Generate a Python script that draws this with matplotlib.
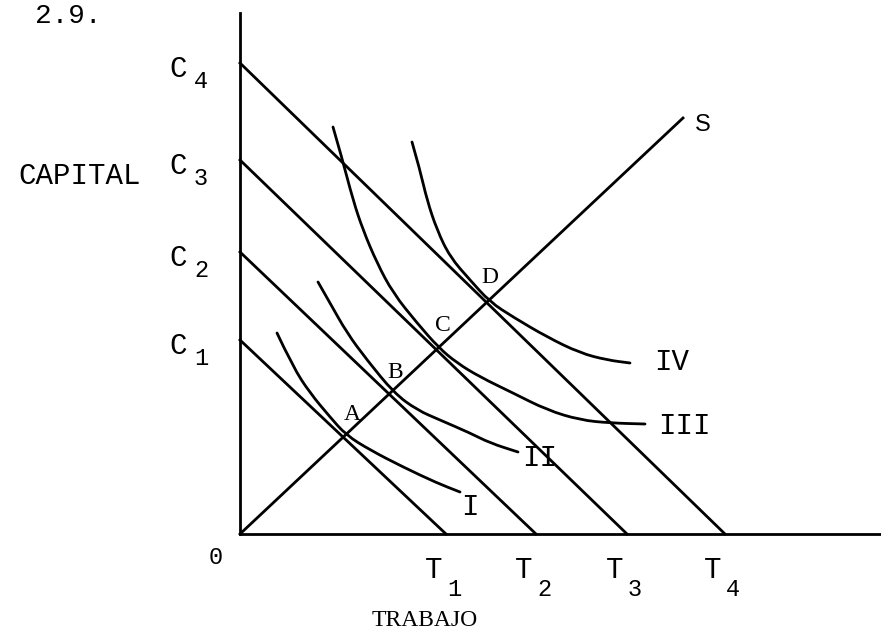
import matplotlib
matplotlib.use("Agg")
import matplotlib.pyplot as plt
from matplotlib.path import Path
from matplotlib.patches import PathPatch

# isocost intercepts (capital axis, labour axis)
c_levels = [19.4, 28.2, 37.4, 47.1]
t_levels = [20.6, 29.6, 38.7, 48.5]
c_names = ["1", "2", "3", "4"]

# expansion path S
s_end = (44.3, 41.6)

# isoquants
iso_I_x = [3.7, 5.3, 7.0, 9.0, 10.6, 13.0, 16.3, 19.7, 22.0]
iso_I_y = [20.1, 16.7, 14.1, 11.7, 9.9, 8.4, 6.7, 5.1, 4.2]
iso_II_x = [7.8, 9.0, 10.7, 12.7, 15.4, 17.7, 20.0, 23.0, 25.0, 27.8]
iso_II_y = [25.2, 23.1, 20.1, 17.4, 14.1, 12.4, 11.4, 10.1, 9.1, 8.2]
iso_III_x = [9.3, 10.2, 11.3, 12.3, 13.7, 15.3, 17.7, 19.9, 21.7, 24.0, 27.3, 30.7, 34.0, 37.0, 40.5]
iso_III_y = [40.7, 37.6, 33.4, 30.4, 27.1, 24.1, 21.1, 18.6, 17.1, 15.7, 14.1, 12.4, 11.4, 11.1, 11.0]
iso_IV_x = [17.2, 18.0, 18.7, 19.7, 21.0, 23.0, 25.0, 27.3, 30.7, 34.0, 36.7, 39.0]
iso_IV_y = [39.2, 36.4, 33.4, 30.4, 27.7, 25.4, 23.2, 21.7, 19.7, 18.1, 17.4, 17.1]

points = ["A", "B", "C", "D"]
point_pos = [(11.2, 11.9), (15.5, 16.1), (20.3, 20.9), (25.0, 25.7)]

mono = "Liberation Mono"
serif = "Liberation Serif"
LW = 2.0

fig = plt.figure(figsize=(8.81, 6.32), dpi=100)
ax = fig.add_axes([0, 0, 1, 1])
ax.set_xlim(-24.0, 64.1)
ax.set_ylim(-9.8, 53.4)
ax.axis("off")


def smooth(xs, ys):
    # quadratic bezier through midpoints so the curve is not angular
    pts = list(zip(xs, ys))
    verts = [pts[0]]
    codes = [Path.MOVETO]
    for i in range(1, len(pts) - 1):
        mid = ((pts[i][0] + pts[i + 1][0]) / 2, (pts[i][1] + pts[i + 1][1]) / 2)
        verts += [pts[i], mid]
        codes += [Path.CURVE3, Path.CURVE3]
    verts.append(pts[-1])
    codes.append(Path.LINETO)
    return PathPatch(Path(verts, codes), fill=False, lw=LW, color="black", capstyle="round")


# axes
ax.plot([0, 0], [0, 52.1], color="black", lw=LW)
ax.plot([0, 64.1], [0, 0], color="black", lw=LW)

# isocost lines
for c, t in zip(c_levels, t_levels):
    ax.plot([0, t], [c, 0], color="black", lw=LW)

# expansion path
ax.plot([0, s_end[0]], [0, s_end[1]], color="black", lw=LW)

for xs, ys in [(iso_I_x, iso_I_y), (iso_II_x, iso_II_y), (iso_III_x, iso_III_y), (iso_IV_x, iso_IV_y)]:
    ax.add_patch(smooth(xs, ys))

# labels
ax.text(-17.2, 53.1, "2.9.", family=mono, fontsize=20, ha="center", va="top")
ax.text(-16.0, 35.8, "CAPITAL", family=mono, fontsize=21, ha="center", va="center")
ax.text(18.5, -8.7, "TRABAJO", family=serif, fontsize=17, ha="center", va="center")
ax.text(-2.4, -2.3, "0", family=mono, fontsize=17, ha="center", va="center")

for c, n in zip(c_levels, c_names):
    ax.text(-6.2, c - 0.6, "C", family=mono, fontsize=21, ha="center", va="center")
    ax.text(-3.9, c - 1.8, n, family=mono, fontsize=17, ha="center", va="center")

for t, n in zip(t_levels, c_names):
    ax.text(t - 1.2, -3.6, "T", family=mono, fontsize=21, ha="center", va="center")
    ax.text(t + 0.8, -5.6, n, family=mono, fontsize=17, ha="center", va="center")

for name, (px, py) in zip(points, point_pos):
    ax.text(px, py, name, family=serif, fontsize=17, ha="center", va="center")

ax.text(23.0, 2.7, "I", family=mono, fontsize=21, ha="center", va="center")
ax.text(30.0, 7.6, "II", family=mono, fontsize=21, ha="center", va="center")
ax.text(44.4, 10.8, "III", family=mono, fontsize=21, ha="center", va="center")
ax.text(43.2, 17.2, "IV", family=mono, fontsize=21, ha="center", va="center")
ax.text(46.3, 40.9, "S", family="Liberation Sans", fontsize=17, ha="center", va="center")

fig.savefig("out.png", dpi=100, facecolor="white")
